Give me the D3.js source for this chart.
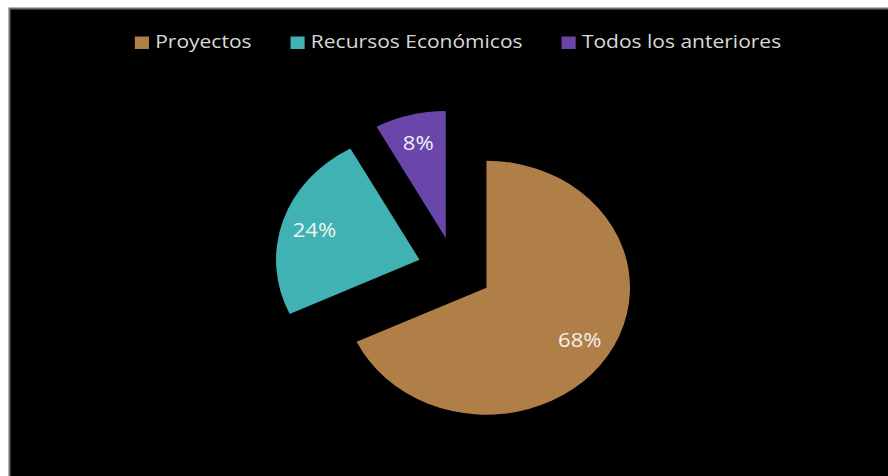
<!DOCTYPE html>
<html>
<head>
<meta charset="utf-8">
<script src="https://cdn.jsdelivr.net/npm/d3@7"></script>
<style>
  body { margin: 0; background: #fff; }
  svg { display: block; }
  text { font-family: "Open Sans", sans-serif; }
</style>
</head>
<body>
<svg id="chart" width="888" height="476"></svg>
<script>
// data
var categories = ["Proyectos", "Recursos Económicos", "Todos los anteriores"];
var values = [68, 24, 8];
var colors = ["#b07f47", "#40b2b4", "#6a46ab"];

var svg = d3.select("#chart"),
    width = +svg.attr("width"),
    height = +svg.attr("height");

// the original picture is stretched sideways a bit
var sx = 1.13;

// black plot area with a grey edge on the top and left
svg.append("rect")
    .attr("x", 9.5).attr("y", 8.5)
    .attr("width", width).attr("height", height)
    .attr("fill", "#000")
    .attr("stroke", "#6e6e6e")
    .attr("stroke-width", 2);

var total = d3.sum(values);
var pie = d3.pie().sort(null).value(function(d) { return d; });
var arcs = pie(values);

var r = 127,
    explode = 33;

var arc = d3.arc().innerRadius(0).outerRadius(r);
var shift = d3.arc().innerRadius(explode).outerRadius(explode);
var labelArc = d3.arc().innerRadius(r * 0.77).outerRadius(r * 0.77);

var pie_g = svg.append("g")
    .attr("transform", "translate(455,270) scale(" + sx + ",1)");

var slice = pie_g.selectAll(".slice")
    .data(arcs)
    .enter().append("g")
    .attr("class", "slice")
    .attr("transform", function(d) {
        var c = shift.centroid(d);
        return "translate(" + c[0] + "," + c[1] + ")";
    });

slice.append("path")
    .attr("d", arc)
    .attr("fill", function(d, i) { return colors[i]; });

slice.append("text")
    .attr("transform", function(d) {
        var c = labelArc.centroid(d);
        return "translate(" + c[0] + "," + c[1] + ")";
    })
    .attr("text-anchor", "middle")
    .attr("dy", "0.36em")
    .attr("fill", "#f2f2f2")
    .style("font-size", "19.5px")
    .text(function(d) { return Math.round(d.value / total * 100) + "%"; });

// legend
var leg_g = svg.append("g")
    .attr("transform", "scale(" + sx + ",1)");

var box = 12.5, boxGap = 5.5, itemGap = 34.5;
var items = leg_g.selectAll(".item")
    .data(categories)
    .enter().append("g")
    .attr("class", "item");

items.append("rect")
    .attr("y", 36.5)
    .attr("width", box).attr("height", box)
    .attr("fill", function(d, i) { return colors[i]; });

items.append("text")
    .attr("x", box + boxGap)
    .attr("y", 48)
    .attr("fill", "#d9d9d9")
    .style("font-size", "18.6px")
    .text(function(d) { return d; });

var widths = [];
items.each(function() {
    widths.push(box + boxGap + d3.select(this).select("text").node().getComputedTextLength());
});
var legWidth = d3.sum(widths) + itemGap * (widths.length - 1);
var x = 458 / sx - legWidth / 2;
items.attr("transform", function(d, i) {
    var t = "translate(" + x + ",0)";
    x += widths[i] + itemGap;
    return t;
});
</script>
</body>
</html>
